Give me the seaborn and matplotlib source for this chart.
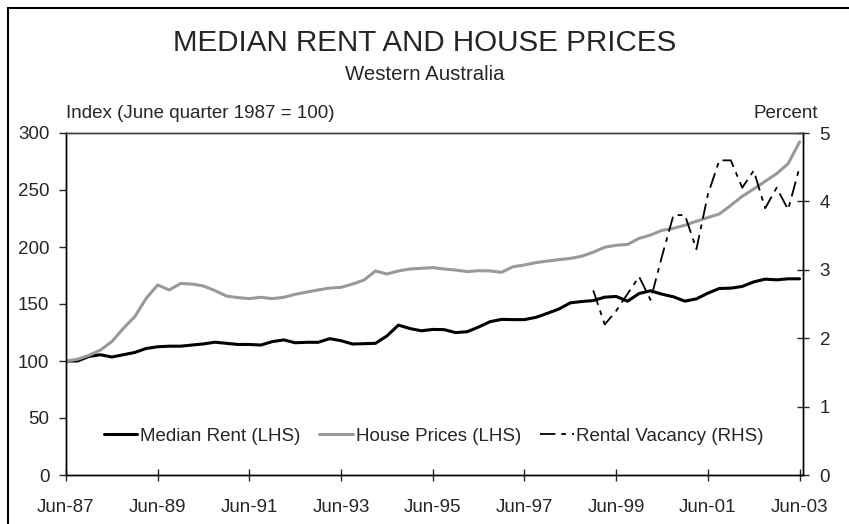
import numpy as np
import pandas as pd
import matplotlib
matplotlib.use("Agg")
import matplotlib.pyplot as plt
import seaborn as sns

# quarterly series, Jun-87 .. Jun-03
quarters = pd.period_range("1987Q2", "2003Q2", freq="Q")

median_rent = [100, 100, 104, 105.5, 103.5, 105.5, 107.5, 111, 112.5, 113,
               113, 114, 115, 116.5, 115.5, 114.5, 114.5, 114, 117, 118.5,
               116, 116.4, 116.4, 119.6, 117.8, 114.9, 115.2, 115.5, 122, 131.5,
               128.5, 126.5, 127.7, 127.5, 124.9, 125.7, 129.8, 134.5, 136.5, 136.3,
               136.3, 138.3, 141.8, 145.6, 151, 152.2, 153, 156, 156.6, 152.5,
               159.2, 161.6, 158.6, 156.3, 152.5, 154.5, 159.5, 163.6, 163.9, 165.4,
               169.4, 171.8, 171.2, 172.1, 172.1]

house_prices = [100, 101.5, 105, 109.6, 117, 128.6, 138.9, 155, 166.7, 162.3,
                168, 167.5, 165.8, 161.7, 157, 155.6, 154.7, 155.9, 154.7, 155.9,
                158.5, 160.5, 162.3, 164, 164.6, 167.5, 171, 179, 176.3, 179,
                180.7, 181.3, 181.9, 180.7, 179.8, 178.4, 179.2, 179, 177.8, 182.7,
                184.2, 186.3, 187.7, 188.9, 190, 191.9, 195.4, 199.8, 201.5, 202.3,
                207.6, 210.5, 214.6, 216.4, 219.1, 222.6, 225.8, 229, 236.5, 244.5,
                250.9, 257.6, 264.3, 273.1, 292.1]

# rental vacancy starts Dec-98
vacancy_start = "1998Q4"
rental_vacancy = [2.7, 2.2, 2.4, 2.65, 2.9, 2.56, 3.2, 3.8, 3.8, 3.3,
                  4.1, 4.6, 4.6, 4.2, 4.45, 3.9, 4.2, 3.88, 4.5]

tick_labels = ["Jun-87", "Jun-89", "Jun-91", "Jun-93", "Jun-95",
               "Jun-97", "Jun-99", "Jun-01", "Jun-03"]

x = np.arange(len(quarters))
vac_x = x[list(quarters).index(pd.Period(vacancy_start, freq="Q")):]

sns.set_style("ticks")
plt.rcParams["font.family"] = ["Liberation Sans", "DejaVu Sans"]
fs = 13.5

fig = plt.figure(figsize=(8.49, 5.24), dpi=100)
ax = fig.add_axes([66 / 849, 49 / 524, 737 / 849, 342 / 524])
ax2 = ax.twinx()

sns.lineplot(x=x, y=median_rent, ax=ax, color="black", lw=2.2,
             label="Median Rent (LHS)", legend=False)
sns.lineplot(x=x, y=house_prices, ax=ax, color="#999999", lw=2.2,
             label="House Prices (LHS)", legend=False)
sns.lineplot(x=vac_x, y=rental_vacancy, ax=ax2, color="black", lw=1.3,
             linestyle=(0, (8.5, 3.3, 2.6, 3.3)),
             label="Rental Vacancy (RHS)", legend=False)

ax.set_xlim(0, 64.3)
ax.set_ylim(0, 300)
ax2.set_ylim(0, 5)
ax.set_xticks(x[::8])
ax.set_xticklabels(tick_labels)
ax.set_yticks(range(0, 301, 50))
ax2.set_yticks(range(0, 6))
ax.set_xlabel("")
ax.set_ylabel("")
ax2.set_ylabel("")

ax.tick_params(axis="x", direction="inout", length=8, width=1, labelsize=fs, pad=13)
ax.tick_params(axis="y", direction="out", length=5, width=1, labelsize=fs, pad=7)
ax2.tick_params(axis="y", direction="inout", length=8, width=1, labelsize=fs, pad=8)

for a in (ax, ax2):
    for s in a.spines.values():
        s.set_visible(True)
        s.set_color("black")
        s.set_linewidth(1)
ax2.spines["top"].set_color("#444444")

h1, l1 = ax.get_legend_handles_labels()
h2, l2 = ax2.get_legend_handles_labels()
ax2.legend(h1 + h2, l1 + l2, ncol=3, frameon=False, loc="center",
           bbox_to_anchor=(0.499, 0.114), fontsize=fs, handlelength=1.8,
           handletextpad=0.15, columnspacing=1.0)

fig.text(0.5, 0.917, "MEDIAN RENT AND HOUSE PRICES", ha="center", va="center", fontsize=21.3)
fig.text(0.5, 0.858, "Western Australia", ha="center", va="center", fontsize=14.7)
fig.text(66 / 849, 1 - 113 / 524, "Index (June quarter 1987 = 100)", ha="left", va="center", fontsize=fs)
fig.text(818 / 849, 1 - 113 / 524, "Percent", ha="right", va="center", fontsize=fs)

# chart border (runs off the right and bottom edge)
fig.add_artist(plt.Rectangle((8 / 849, -0.1), 1.0, 1 - 7.5 / 524 + 0.1,
                             transform=fig.transFigure, fill=False,
                             edgecolor="black", lw=1.5))

fig.savefig("out.png", dpi=100)
